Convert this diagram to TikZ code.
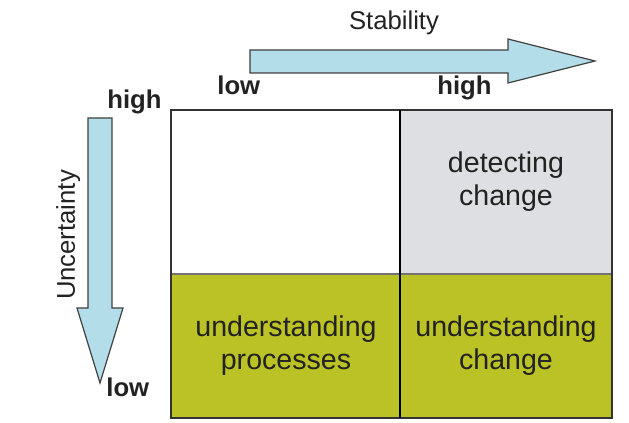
\documentclass[tikz,border=0pt]{standalone}
\usepackage{fontspec}
\setsansfont{Liberation Sans}
\usepackage{tikz}
\usetikzlibrary{calc}

\definecolor{arrowblue}{HTML}{B3DDE9}
\definecolor{olive}{HTML}{BBC225}
\definecolor{lightgrey}{HTML}{DEDFE2}
\definecolor{txt}{HTML}{222222}

\tikzset{
	lbl/.style={inner sep=0pt, text=txt, font=\sffamily\fontsize{12.85}{15}\selectfont},
	lblb/.style={lbl, font=\sffamily\bfseries\fontsize{12.85}{15}\selectfont},
	cell/.style={inner sep=0pt, align=center, text=txt, font=\sffamily\fontsize{14.3}{16.5}\selectfont},
	bigarrow/.style={fill=arrowblue, draw=black!75, line width=0.6pt, line join=miter}
}

\begin{document}
\begin{tikzpicture}[x=0.5pt, y=-0.5pt, font=\sffamily]
	\useasboundingbox (0,0) rectangle (629,423);
	
	% arrows
	\draw[bigarrow] (250,50) -- (508,50) -- (508,39) -- (595,61) -- (508,83) -- (508,73) -- (250,73) -- cycle;
	\draw[bigarrow] (88,118) -- (112,118) -- (112,308) -- (123,308) -- (100,383) -- (77,308) -- (88,308) -- cycle;
	
	\node[lbl, anchor=base] (stab) at (394,30) {Stability};
	\node[lblb, anchor=base west] (slow) at (217,95) {low};
	\node[lblb, anchor=base west] (shigh) at (437,95) {high};
	
	\node[lbl, anchor=base, rotate=90] (unc) at (75,235) {Uncertainty};
	\node[lblb, anchor=base west] (uhigh) at (107,109) {high};
	\node[lblb, anchor=base west] (ulow) at (106,397) {low};
	
	% quadrants
	\fill[lightgrey] (400,110) rectangle (612,274);
	\fill[olive] (171,274) rectangle (612,418);
	\draw[black!55, line width=0.8pt] (171,274) -- (612,274);
	\draw[black!80, line width=0.7pt] (171,110) rectangle (612,418);
	\draw[black, line width=1.1pt] (400,110) -- (400,418);
	
	\node[cell] (detect) at (506,182) {detecting\\change};
	\node[cell] (uproc) at (286,346) {understanding\\processes};
	\node[cell] (uchange) at (506,346) {understanding\\change};
\end{tikzpicture}
\end{document}
